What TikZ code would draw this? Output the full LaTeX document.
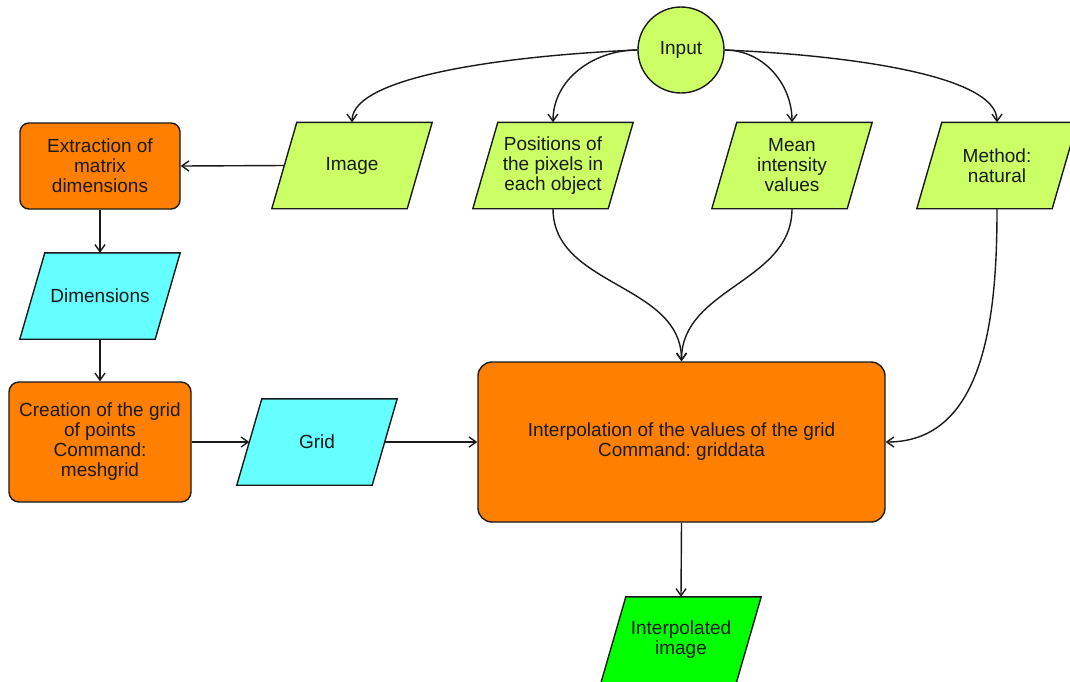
\documentclass[tikz,border=0pt]{standalone}
\usepackage{fontspec}
\setmainfont{Liberation Sans}
\frenchspacing
\usetikzlibrary{arrows.meta}
\pgfdeclarelayer{background}
\pgfsetlayers{background,main}

\definecolor{lime}{HTML}{CCFF66}
\definecolor{procorange}{HTML}{FF8000}
\definecolor{datacyan}{HTML}{66FFFF}
\definecolor{outgreen}{HTML}{00FF00}
\definecolor{ink}{HTML}{1A1A1A}

\tikzset{
  outline/.style={draw=ink, line width=1.4pt},
  boxtext/.style={font=\fontsize{19}{20}\selectfont, text=ink, align=center},
  % invisible frame of a data parallelogram; the slanted outline is drawn behind it
  databox/.style={rectangle, minimum width=135pt, minimum height=86pt, inner sep=0pt, boxtext},
  procbox/.style={rectangle, rounded corners=9pt, outline, fill=procorange, inner sep=0pt, boxtext},
  startnode/.style={circle, outline, fill=lime, minimum size=86pt, inner sep=0pt, boxtext},
  link/.style={draw=ink, line width=1.4pt, -{Straight Barb[length=7pt,width=10pt]}},
}

% slanted outline of a data node, shifted 12.5pt at the top and bottom
\newcommand\slantshape[2]{%
  \begin{pgfonlayer}{background}
    \path[outline, fill=#2]
      ([xshift=12.5pt]#1.north west) -- ([xshift=12.5pt]#1.north east) --
      ([xshift=-12.5pt]#1.south east) -- ([xshift=-12.5pt]#1.south west) -- cycle;
  \end{pgfonlayer}}

\begin{document}
\begin{tikzpicture}[x=1pt, y=-1pt]
\useasboundingbox (0,0) rectangle (1070,681);

% input and its four data items
\node[startnode] (in) at (681,50) {Input};
\node[databox] (img)  at (352,165.5) {Image};
\node[databox] (pos)  at (553,165.5) {Positions of\\the pixels in\\each object};
\node[databox] (mean) at (792,165.5) {Mean\\intensity\\values};
\node[databox] (meth) at (997,165.5) {Method:\\natural};
\slantshape{img}{lime}
\slantshape{pos}{lime}
\slantshape{mean}{lime}
\slantshape{meth}{lime}

% left column: grid construction
\node[procbox, minimum width=160pt, minimum height=86pt] (ext) at (100,166)
  {Extraction of\\matrix\\dimensions};
\node[databox] (dim) at (100,296) {Dimensions};
\slantshape{dim}{datacyan}
\node[procbox, rounded corners=10pt, minimum width=182pt, minimum height=120pt] (cre) at (100,442)
  {Creation of the grid\\of points\\Command:\\meshgrid};
\node[databox] (grid) at (317,442) {Grid};
\slantshape{grid}{datacyan}

% interpolation and result
\node[procbox, rounded corners=14pt, minimum width=407pt, minimum height=160pt] (interp) at (681.5,442)
  {Interpolation of the values of the grid\\Command: griddata};
\node[databox] (res) at (681,640) {Interpolated\\image};
\slantshape{res}{outgreen}

% connectors
\draw[link] (in.west) .. controls +(-118,5) and +(0,-48) .. (img.north);
\draw[link] (in.west) to[out=180, in=90] (pos.north);
\draw[link] (in.east) to[out=0, in=90] (mean.north);
\draw[link] (in.east) .. controls +(118,5) and +(0,-48) .. (meth.north);
\draw[link] (img.west) -- (ext.east);
\draw[link] (ext.south) -- (dim.north);
\draw[link] (dim.south) -- (cre.north);
\draw[link] (cre.east) -- (grid.west);
\draw[link] (grid.east) -- (interp.west);
\draw[link] (pos.south) to[out=-90, in=90] (interp.north);
\draw[link] (mean.south) to[out=-90, in=90] (interp.north);
\draw[link] (meth.south) to[out=-90, in=0] (interp.east);
\draw[link] (interp.south) -- (res.north);
\end{tikzpicture}
\end{document}
